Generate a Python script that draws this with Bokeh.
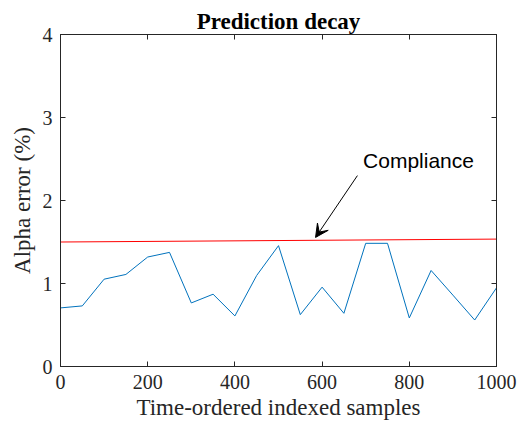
from bokeh.plotting import figure
from bokeh.models import Range1d, LinearAxis, FixedTicker, Arrow, VeeHead, Label
from bokeh.embed import file_html
from bokeh.resources import INLINE

# data
samples = [0, 50, 100, 150, 200, 250, 300, 350, 400, 450, 500,
           550, 600, 650, 700, 750, 800, 850, 900, 950, 1000]
alpha_error = [0.706, 0.73, 1.052, 1.109, 1.319, 1.375, 0.766, 0.871, 0.609, 1.097, 1.456,
               0.625, 0.956, 0.641, 1.484, 1.484, 0.585, 1.157, 0.86, 0.56, 0.948]
compliance_x = [0, 1000]
compliance_y = [1.5, 1.535]
x_ticks = [0, 200, 400, 600, 800, 1000]
y_ticks = [0, 1, 2, 3, 4]
annot_text = "Compliance"
arrow_start = (681, 2.30)
arrow_end = (585, 1.555)

SERIF = "Liberation Serif"
SANS = "Liberation Sans"
AX = "#262626"

p = figure(width=526, height=426, output_backend="svg", toolbar_location=None,
           x_range=Range1d(0, 1000), y_range=Range1d(0, 4),
           min_border_left=60, min_border_right=30, min_border_top=34, min_border_bottom=60,
           title="Prediction decay")
p.title.align = "center"
p.title.text_font = SERIF
p.title.text_font_size = "23px"
p.title.text_font_style = "bold"
p.title.text_color = "black"
p.title.offset = 0
p.title.standoff = 1

p.grid.visible = False
p.outline_line_color = AX
p.outline_line_width = 1
p.background_fill_color = "white"
p.border_fill_color = "white"

for ax in (p.xaxis[0], p.yaxis[0]):
    ax.major_tick_in = 5
    ax.major_tick_out = 0
    ax.minor_tick_line_color = None
    ax.axis_line_color = AX
    ax.major_tick_line_color = AX
    ax.major_label_text_font = SERIF
    ax.major_label_text_font_size = "20px"
    ax.major_label_text_color = AX
    ax.axis_label_text_font = SERIF
    ax.axis_label_text_font_size = "23px"
    ax.axis_label_text_font_style = "normal"
    ax.axis_label_text_color = AX

p.xaxis[0].ticker = FixedTicker(ticks=x_ticks)
p.yaxis[0].ticker = FixedTicker(ticks=y_ticks)
p.xaxis[0].axis_label = "Time-ordered indexed samples"
p.yaxis[0].axis_label = "Alpha error (%)"
p.xaxis[0].major_label_standoff = 8
p.yaxis[0].major_label_standoff = 8
p.xaxis[0].axis_label_standoff = 3
p.yaxis[0].axis_label_standoff = 5

# mirrored ticks on top and right
top = LinearAxis(ticker=FixedTicker(ticks=x_ticks), major_label_text_font_size="0px",
                 major_tick_in=5, major_tick_out=0, minor_tick_line_color=None,
                 axis_line_color=AX, major_tick_line_color=AX, major_label_standoff=0)
right = LinearAxis(ticker=FixedTicker(ticks=y_ticks), major_label_text_font_size="0px",
                   major_tick_in=5, major_tick_out=0, minor_tick_line_color=None,
                   axis_line_color=AX, major_tick_line_color=AX, major_label_standoff=0)
top.major_label_text_color = None
right.major_label_text_color = None
p.add_layout(top, "above")
p.add_layout(right, "right")

p.line(samples, alpha_error, line_color="#0072BD", line_width=1)
p.line(compliance_x, compliance_y, line_color="#FF0000", line_width=1)

p.add_layout(Arrow(x_start=arrow_start[0], y_start=arrow_start[1],
                   x_end=arrow_end[0], y_end=arrow_end[1],
                   line_color="black", line_width=1,
                   end=VeeHead(size=13, fill_color="black", line_color="black", line_width=1)))
p.add_layout(Label(x=arrow_start[0] + 13, y=2.48, text=annot_text,
                   text_font=SANS, text_font_size="21px", text_color="black",
                   text_baseline="middle", text_align="left"))

open("out.html", "w").write(file_html(p, INLINE))
